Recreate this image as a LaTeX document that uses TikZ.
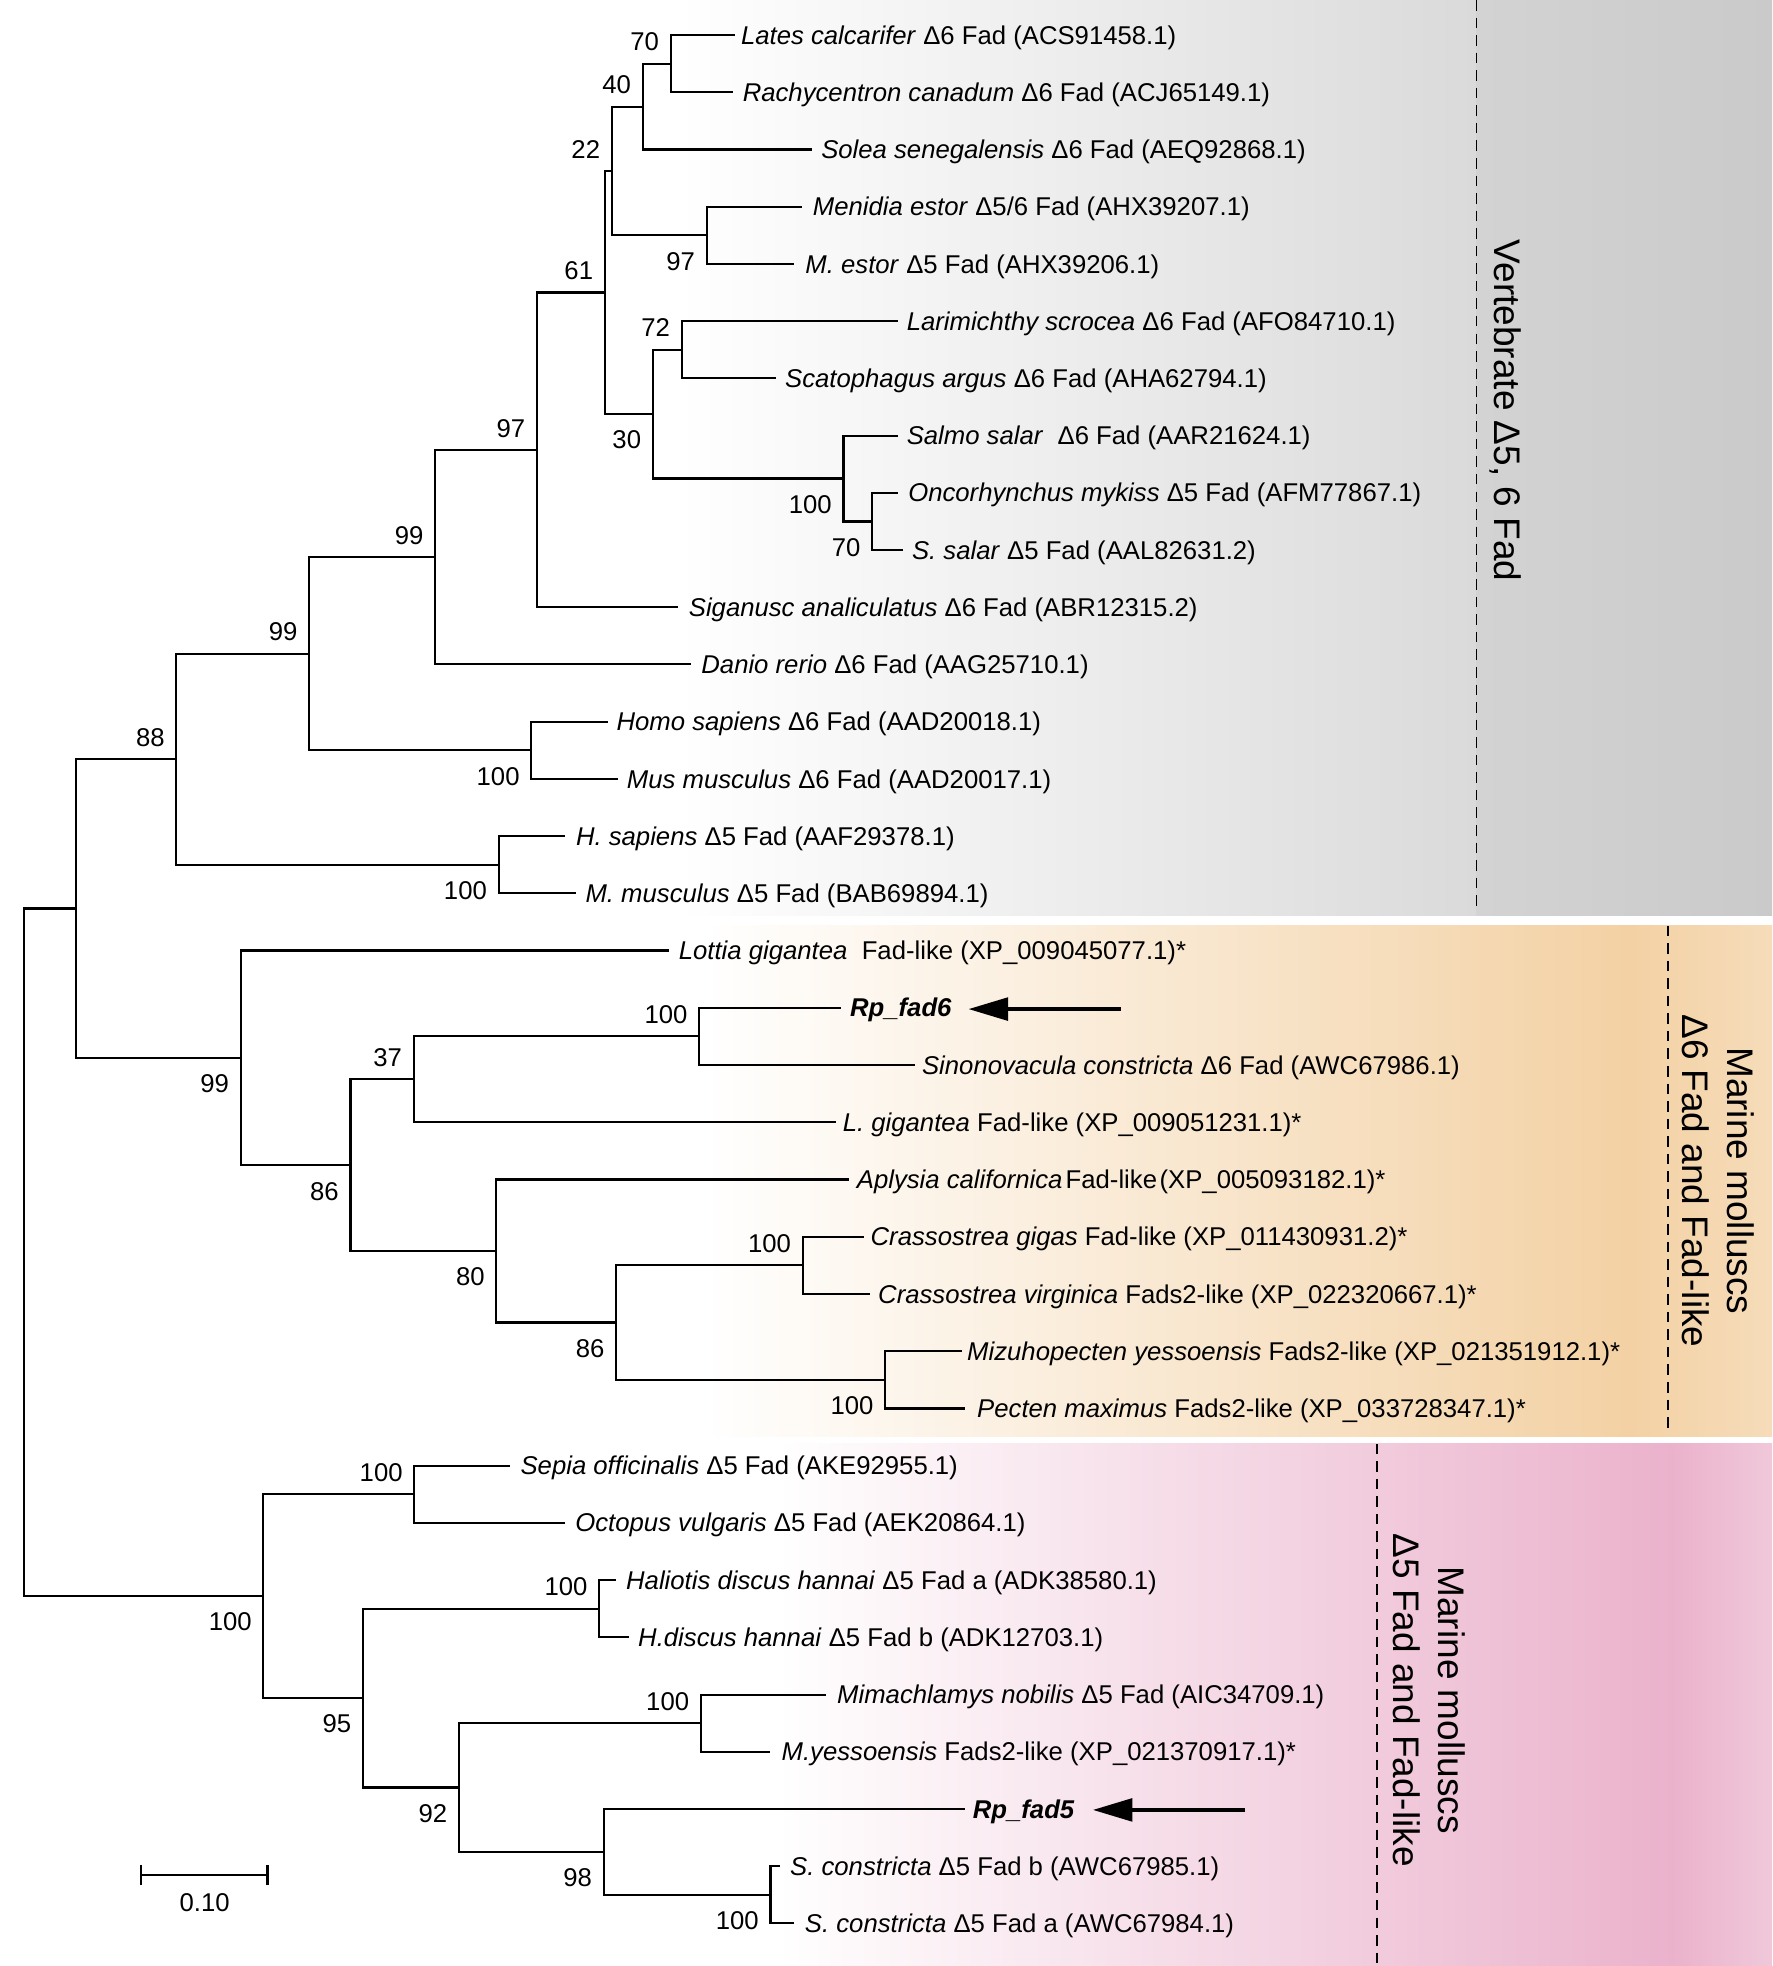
\documentclass[tikz,border=0pt]{standalone}
\usepackage{fontspec}
\setmainfont{Liberation Sans}
\usetikzlibrary{arrows.meta}
\newcommand{\tipfont}{\fontsize{10.25}{12}\selectfont}
\definecolor{vgA}{HTML}{DADADA}
\definecolor{vgB}{HTML}{D3D3D3}
\definecolor{vgC}{HTML}{CACACA}
\definecolor{peA}{HTML}{F3D1A4}
\definecolor{peB}{HTML}{F6DCBA}
\definecolor{pkA}{HTML}{F1CBDC}
\definecolor{pkB}{HTML}{EBB2CC}
\definecolor{pkC}{HTML}{F0C8DA}
\begin{document}
\begin{tikzpicture}[x=0.5pt,y=-0.5pt,
  br/.style={line width=0.85pt, line join=miter},
  tiplab/.style={anchor=base west, inner sep=0pt, yshift=-3.65pt, font=\tipfont},
  bsa/.style={anchor=base east, inner sep=0pt, xshift=-4.5pt, yshift=5.1pt, font=\tipfont},
  bsb/.style={anchor=base east, inner sep=0pt, xshift=-4.5pt, yshift=-13.9pt, font=\tipfont},
  grp/.style={rotate=-90, align=center, inner sep=0pt, font=\fontsize{14.75}{18}\selectfont},
  sepline/.style={line width=0.6pt, dash pattern=on 4.2pt off 2.8pt},
  ptr/.style={line width=1.6pt, -{Triangle[length=15.8pt,width=9pt]}}
]
\useasboundingbox (0,0) rectangle (1413.3,1568);
% background bands
\shade[left color=white, right color=vgA] (540,0) rectangle (1178,730.5);
\shade[left color=vgB, right color=vgC] (1177.5,0) rectangle (1413.3,730.5);
\shade[left color=white, right color=peA] (560,738.2) rectangle (1300.5,1145.3);
\shade[left color=peA, right color=peB] (1300,738.2) rectangle (1413.3,1145.3);
\shade[left color=white, right color=pkA] (620,1151.3) rectangle (1098.8,1568);
\shade[left color=pkA, right color=pkB] (1098.3,1151.3) rectangle (1334.5,1568);
\shade[left color=pkB, right color=pkC] (1334,1151.3) rectangle (1413.3,1568);
% dashed separators
\coordinate (d1a) at (1177.7,0);      \coordinate (d1b) at (1177.7,724.8);
\coordinate (d2a) at (1330.5,738.2);  \coordinate (d2b) at (1330.5,1140.4);
\coordinate (d3a) at (1098.3,1151.3); \coordinate (d3b) at (1098.3,1568);
\draw[sepline] (d1a) -- (d1b);
\draw[sepline] (d2a) -- (d2b);
\draw[sepline] (d3a) -- (d3b);
% group labels
\node[grp] (gV) at (1201,327.5) {Vertebrate \char"0394 5, 6 Fad};
\node[grp] (g6) at (1370.5,941.8) {Marine molluscs\\\char"0394 6 Fad and Fad-like};
\node[grp] (g5) at (1140,1356) {Marine molluscs\\\char"0394 5 Fad and Fad-like};
% tips
\coordinate (t1) at (586,27.9);    \node[tiplab] (l1) at (590.6,27.9) {\textit{Lates calcarifer} Δ6 Fad (ACS91458.1)};
\coordinate (t2) at (585,73.5);    \node[tiplab] (l2) at (592,73.5) {\textit{Rachycentron canadum} Δ6 Fad (ACJ65149.1)};
\coordinate (t3) at (648,119.2);   \node[tiplab] (l3) at (654.6,119.2) {\textit{Solea senegalensis} Δ6 Fad (AEQ92868.1)};
\coordinate (t4) at (640,164.8);   \node[tiplab] (l4) at (648,164.8) {\textit{Menidia estor} Δ5/6 Fad (AHX39207.1)};
\coordinate (t5) at (633.5,210.5); \node[tiplab] (l5) at (642,210.5) {\textit{M. estor} Δ5 Fad (AHX39206.1)};
\coordinate (t6) at (716,256.1);   \node[tiplab] (l6) at (722.8,256.1) {\textit{Larimichthy scrocea} Δ6 Fad (AFO84710.1)};
\coordinate (t7) at (618.6,301.7); \node[tiplab] (l7) at (625.8,301.7) {\textit{Scatophagus argus} Δ6 Fad (AHA62794.1)};
\coordinate (t8) at (716,347.4);   \node[tiplab] (l8) at (722.8,347.4) {\textit{Salmo salar}\ \ Δ6 Fad (AAR21624.1)};
\coordinate (t9) at (716,393.0);   \node[tiplab] (l9) at (724,393.0) {\textit{Oncorhynchus mykiss} Δ5 Fad (AFM77867.1)};
\coordinate (t10) at (720,438.7);  \node[tiplab] (l10) at (727,438.7) {\textit{S. salar} Δ5 Fad (AAL82631.2)};
\coordinate (t11) at (541,484.3);  \node[tiplab] (l11) at (549,484.3) {\textit{Siganusc analiculatus} Δ6 Fad (ABR12315.2)};
\coordinate (t12) at (551,529.9);  \node[tiplab] (l12) at (559,529.9) {\textit{Danio rerio} Δ6 Fad (AAG25710.1)};
\coordinate (t13) at (484.7,575.6); \node[tiplab] (l13) at (491.4,575.6) {\textit{Homo sapiens} Δ6 Fad (AAD20018.1)};
\coordinate (t14) at (492.8,621.2); \node[tiplab] (l14) at (499.6,621.2) {\textit{Mus musculus} Δ6 Fad (AAD20017.1)};
\coordinate (t15) at (450.9,666.9); \node[tiplab] (l15) at (459,666.9) {\textit{H. sapiens} Δ5 Fad (AAF29378.1)};
\coordinate (t16) at (459,712.5);  \node[tiplab] (l16) at (466.6,712.5) {\textit{M. musculus} Δ5 Fad (BAB69894.1)};
\coordinate (t17) at (533.4,758.1); \node[tiplab] (l17) at (541,758.1) {\textit{Lottia gigantea}\ \ Fad-like (XP\_009045077.1)*};
\coordinate (t18) at (670.4,803.8); \node[tiplab] (l18) at (677.6,803.8) {\textbf{\textit{Rp\_fad6}}};
\coordinate (t19) at (729.5,849.4); \node[tiplab] (l19) at (735,849.4) {\textit{Sinonovacula constricta} Δ6 Fad (AWC67986.1)};
\coordinate (t20) at (666.4,895.1); \node[tiplab] (l20) at (671.8,895.1) {\textit{L. gigantea} Fad-like (XP\_009051231.1)*};
\coordinate (t21) at (677.2,940.7); \node[tiplab] (l21) at (683,940.7) {\textit{Aplysia californica}\hspace{0.12em}Fad-like\hspace{0.1em}(XP\_005093182.1)*};
\coordinate (t22) at (689,986.3);  \node[tiplab] (l22) at (694,986.3) {\textit{Crassostrea gigas} Fad-like (XP\_011430931.2)*};
\coordinate (t23) at (694,1032.0); \node[tiplab] (l23) at (700,1032.0) {\textit{Crassostrea virginica} Fads2-like (XP\_022320667.1)*};
\coordinate (t24) at (767,1077.6); \node[tiplab] (l24) at (771,1077.6) {\textit{Mizuhopecten yessoensis} Fads2-like (XP\_021351912.1)*};
\coordinate (t25) at (770,1123.3); \node[tiplab] (l25) at (779,1123.3) {\textit{Pecten maximus} Fads2-like (XP\_033728347.1)*};
\coordinate (t26) at (407,1168.9); \node[tiplab] (l26) at (414.8,1168.9) {\textit{Sepia officinalis} Δ5 Fad (AKE92955.1)};
\coordinate (t27) at (450.9,1214.5); \node[tiplab] (l27) at (458.5,1214.5) {\textit{Octopus vulgaris} Δ5 Fad (AEK20864.1)};
\coordinate (t28) at (491.4,1260.2); \node[tiplab] (l28) at (499,1260.2) {\textit{Haliotis discus hannai} Δ5 Fad a (ADK38580.1)};
\coordinate (t29) at (501.8,1305.8); \node[tiplab] (l29) at (508.6,1305.8) {\textit{H.discus hannai} Δ5 Fad b (ADK12703.1)};
\coordinate (t30) at (659,1351.5); \node[tiplab] (l30) at (667.3,1351.5) {\textit{Mimachlamys nobilis} Δ5 Fad (AIC34709.1)};
\coordinate (t31) at (614,1397.1); \node[tiplab] (l31) at (623,1397.1) {\textit{M.yessoensis} Fads2-like (XP\_021370917.1)*};
\coordinate (t32) at (770,1442.7); \node[tiplab] (l32) at (775.5,1442.7) {\textbf{\textit{Rp\_fad5}}};
\coordinate (t33) at (622,1488.4); \node[tiplab] (l33) at (629.8,1488.4) {\textit{S. constricta} Δ5 Fad b (AWC67985.1)};
\coordinate (t34) at (633.5,1534.0); \node[tiplab] (l34) at (641.6,1534.0) {\textit{S. constricta} Δ5 Fad a (AWC67984.1)};
% internal nodes
\coordinate (n70a) at (535,50.7);
\coordinate (n40) at (512.6,85.0);
\coordinate (n97a) at (563.6,187.7);
\coordinate (n22) at (488,136.3);
\coordinate (n72) at (543.7,278.9);
\coordinate (n70b) at (695.7,415.9);
\coordinate (n100a) at (672.7,381.6);
\coordinate (n30) at (520.7,330.3);
\coordinate (n61) at (482.4,233.3);
\coordinate (n97b) at (428.3,358.8);
\coordinate (n99a) at (347.2,444.4);
\coordinate (n100b) at (423.8,598.4);
\coordinate (n99b) at (246.6,521.4);
\coordinate (n100c) at (397.7,689.7);
\coordinate (n88) at (140.7,605.5);
\coordinate (n100d) at (557.7,826.6);
\coordinate (n37) at (330,860.9);
\coordinate (n100e) at (640.2,1009.2);
\coordinate (n100f) at (706,1100.4);
\coordinate (n86b) at (491.4,1054.8);
\coordinate (n80) at (395.9,997.8);
\coordinate (n86a) at (279.5,929.3);
\coordinate (n99c) at (192,843.7);
\coordinate (nV) at (60.9,724.6);
\coordinate (n100g) at (330.5,1191.7);
\coordinate (n100h) at (477.9,1283.0);
\coordinate (n100i) at (559,1374.3);
\coordinate (n100j) at (614.5,1511.2);
\coordinate (n98) at (481.5,1477.0);
\coordinate (n92) at (366,1425.6);
\coordinate (n95) at (289.5,1354.3);
\coordinate (n100k) at (210.1,1273.0);
\coordinate (root) at (18.9,998.8);
% branches
\foreach \p/\c in {n70a/t1,n70a/t2,n40/n70a,n40/t3,n97a/t4,n97a/t5,n22/n40,n22/n97a,
  n72/t6,n72/t7,n70b/t9,n70b/t10,n100a/t8,n100a/n70b,n30/n72,n30/n100a,n61/n22,n61/n30,
  n97b/n61,n97b/t11,n99a/n97b,n99a/t12,n100b/t13,n100b/t14,n99b/n99a,n99b/n100b,
  n100c/t15,n100c/t16,n88/n99b,n88/n100c,n100d/t18,n100d/t19,n37/n100d,n37/t20,
  n100e/t22,n100e/t23,n100f/t24,n100f/t25,n86b/n100e,n86b/n100f,n80/t21,n80/n86b,
  n86a/n37,n86a/n80,n99c/t17,n99c/n86a,nV/n88,nV/n99c,n100g/t26,n100g/t27,
  n100h/t28,n100h/t29,n100i/t30,n100i/t31,n100j/t33,n100j/t34,n98/t32,n98/n100j,
  n92/n100i,n92/n98,n95/n100h,n95/n92,n100k/n100g,n100k/n95,root/nV,root/n100k}
  \draw[br] (\p) |- (\c);
% bootstrap values
\node[bsa] at (n70a) {70};
\node[bsa] at (n40) {40};
\node[bsa] at (n22) {22};
\node[bsb] at (n97a) {97};
\node[bsa] at (n61) {61};
\node[bsa] at (n72) {72};
\node[bsb] at (n30) {30};
\node[bsb] at (n100a) {100};
\node[bsb] at (n70b) {70};
\node[bsa] at (n97b) {97};
\node[bsa] at (n99a) {99};
\node[bsa] at (n99b) {99};
\node[bsb] at (n100b) {100};
\node[bsa] at (n88) {88};
\node[bsb] at (n100c) {100};
\node[bsb] at (n99c) {99};
\node[bsa] at (n37) {37};
\node[bsa] at (n100d) {100};
\node[bsb] at (n86a) {86};
\node[bsb] at (n80) {80};
\node[bsa] at (n100e) {100};
\node[bsb] at (n86b) {86};
\node[bsb] at (n100f) {100};
\node[bsa] at (n100g) {100};
\node[bsb] at (n100k) {100};
\node[bsa] at (n100h) {100};
\node[bsb] at (n95) {95};
\node[bsa] at (n100i) {100};
\node[bsb] at (n92) {92};
\node[bsb] at (n98) {98};
\node[bsb] at (n100j) {100};
% arrows
\coordinate (a6s) at (894,804.8);  \coordinate (a6e) at (772.4,804.8);
\coordinate (a5s) at (993.3,1443.5); \coordinate (a5e) at (871.6,1443.5);
\draw[ptr] (a6s) -- (a6e);
\draw[ptr] (a5s) -- (a5e);
% scale bar
\coordinate (sbL) at (112.7,1495.4); \coordinate (sbR) at (213.3,1495.4);
\draw[br] (sbL) -- (sbR);
\draw[br] ([yshift=4pt]sbL) -- ([yshift=-4pt]sbL);
\draw[br] ([yshift=4pt]sbR) -- ([yshift=-4pt]sbR);
\node[anchor=base, inner sep=0pt, font=\tipfont] (sbt) at (163.2,1524.8) {0.10};
\end{tikzpicture}
\end{document}
